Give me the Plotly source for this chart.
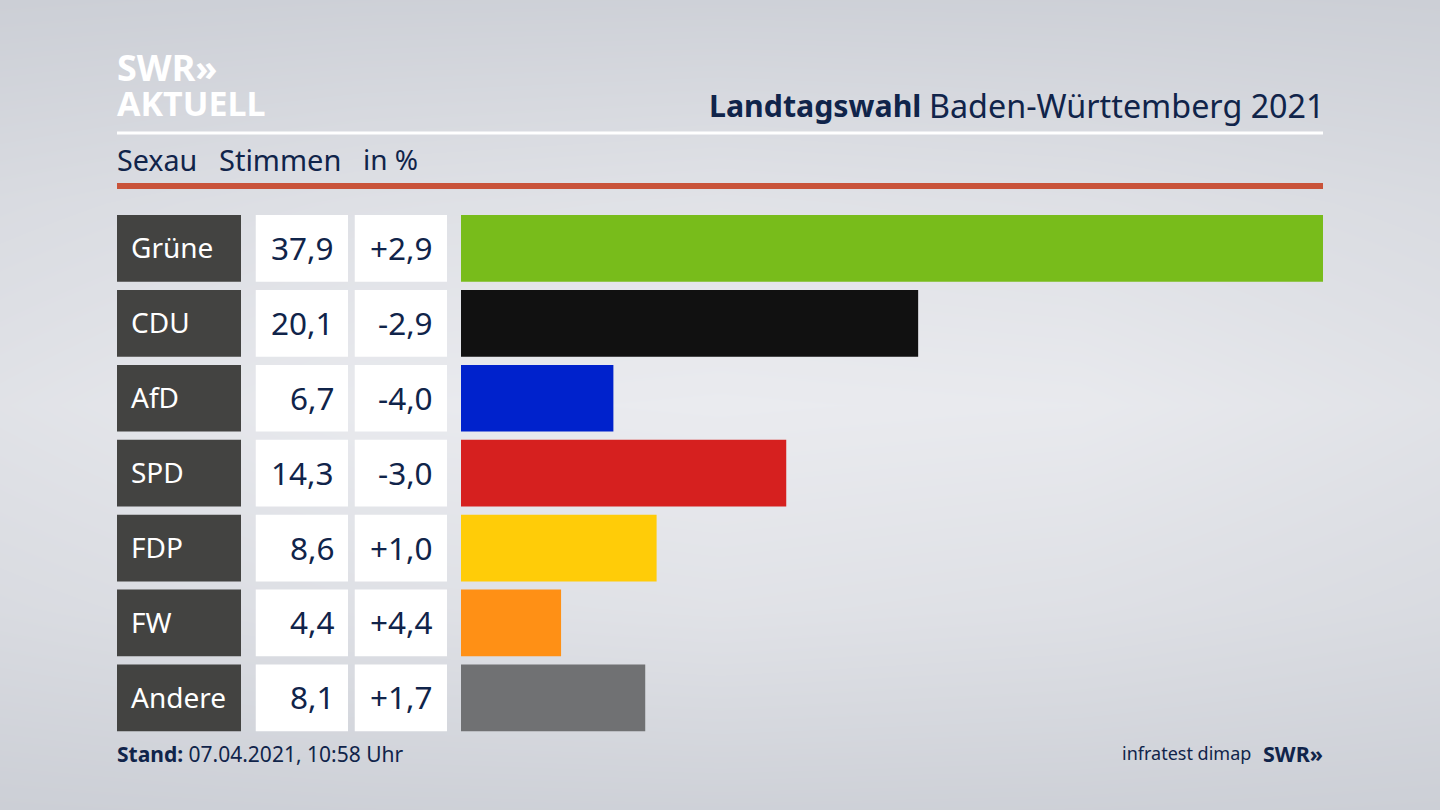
#!/usr/bin/env python3
"""Landtagswahl BW 2021, Sexau: vote share bars with label and value cells."""
import plotly.graph_objects as go

# ── data ─────────────────────────────────────────────
PARTIES = ["Grüne", "CDU", "AfD", "SPD", "FDP", "FW", "Andere"]
SHARES = [37.9, 20.1, 6.7, 14.3, 8.6, 4.4, 8.1]
CHANGES = [2.9, -2.9, -4.0, -3.0, 1.0, 4.4, 1.7]
BAR_COLORS = ["#78bc1b", "#111111", "#0022cc", "#d6201f", "#ffcc08", "#ff9015", "#707173"]

# backdrop brightness, rows top to bottom (0 = edge grey, 1 = centre)
BG_X = [0, 0.25, 0.5, 0.75, 1]
BG_Y = [0, 0.25, 0.5, 0.75, 1]
BG_Z = [
    [0.03, 0.08, 0.10, 0.08, 0.03],
    [0.45, 0.62, 0.70, 0.62, 0.45],
    [0.70, 0.95, 1.00, 0.95, 0.70],
    [0.45, 0.62, 0.70, 0.62, 0.45],
    [0.03, 0.08, 0.10, 0.08, 0.03],
]

W, H = 1440, 810
NAVY = "#10244a"
FONT = "Noto Sans"


def px_x(*vals):
    return [v / W for v in vals]


def px_y(top, bottom):
    return [1 - bottom / H, 1 - top / H]


def de(v, sign=False):
    s = f"{v:+.1f}" if sign else f"{v:.1f}"
    return s.replace(".", ",")


fig = go.Figure()

# backdrop goes on the first subplot so everything else is drawn over it
fig.add_trace(go.Heatmap(x=BG_X, y=BG_Y, z=BG_Z, zsmooth="best", showscale=False, hoverinfo="skip",
                         zmin=0, zmax=1, colorscale=[[0, "#cbced5"], [1, "#eaebef"]]))

# cell columns: label, share, change
for ax, color in [("x2", "#434341"), ("x3", "#ffffff"), ("x4", "#ffffff")]:
    fig.add_trace(go.Bar(x=[1] * len(PARTIES), y=PARTIES, orientation="h", xaxis=ax, yaxis="y2",
                         marker=dict(color=color, line_width=0), width=0.89, hoverinfo="skip"))

fig.add_trace(go.Bar(x=SHARES, y=PARTIES, orientation="h", xaxis="x5", yaxis="y2",
                     marker=dict(color=BAR_COLORS, line_width=0), width=0.89))

hidden = dict(visible=False, fixedrange=True)
fig.update_layout(
    width=W, height=H, margin=dict(l=0, r=0, t=0, b=0), showlegend=False,
    paper_bgcolor="#dfe1e6", plot_bgcolor="rgba(0,0,0,0)",
    font=dict(family=FONT, color=NAVY),
    xaxis=dict(hidden, domain=[0, 1], range=[0, 1]),
    yaxis=dict(hidden, domain=[0, 1], range=[1, 0]),
    xaxis2=dict(hidden, domain=px_x(117, 241), range=[0, 1], anchor="y2"),
    xaxis3=dict(hidden, domain=px_x(255.5, 348), range=[0, 1], anchor="y2"),
    xaxis4=dict(hidden, domain=px_x(354.5, 447), range=[0, 1], anchor="y2"),
    xaxis5=dict(hidden, domain=px_x(461, 1323), range=[0, 37.9], anchor="y2"),
    yaxis2=dict(hidden, domain=px_y(211, 735.3), categoryorder="array", categoryarray=PARTIES,
                range=[6.5, -0.5], anchor="x2"),
)


def label(x, y, text, size, color=NAVY, anchor="left", yref="paper", family=FONT):
    fig.add_annotation(x=x / W, xref="paper", y=y if yref != "paper" else 1 - y / H, yref=yref,
                       text=text, showarrow=False, xanchor=anchor, yanchor="middle",
                       yshift=1 if yref != "paper" else 0,
                       font=dict(size=size, color=color, family=family), borderpad=0, borderwidth=0)


for party, share, change in zip(PARTIES, SHARES, CHANGES):
    label(131, party, party, 28, "#ffffff", yref="y2")
    label(334, party, de(share), 31.5, anchor="right", yref="y2")
    label(433, party, de(change, sign=True), 31.5, anchor="right", yref="y2")

# header rules
fig.add_shape(type="rect", xref="paper", yref="paper", x0=117 / W, x1=1323 / W, y0=1 - 134.5 / H, y1=1 - 131.5 / H,
              fillcolor="#ffffff", line_width=0)
fig.add_shape(type="rect", xref="paper", yref="paper", x0=117 / W, x1=1323 / W, y0=1 - 189 / H, y1=1 - 183 / H,
              fillcolor="#c9533a", line_width=0)

# header and footer text
label(117, 68, "<b>SWR»</b>", 36, "#ffffff")
label(117, 102.5, "<b>AKTUELL</b>", 34, "#ffffff")
label(921, 105.5, "<b>Landtagswahl</b>", 30.3, anchor="right")
label(1325, 105.5, "Baden-Württemberg 2021", 32.3, anchor="right")
label(117, 159.5, "Sexau", 28.7)
label(219, 159.5, "Stimmen", 29)
label(363, 159.5, "in %", 28)
label(117, 754, "<b>Stand:</b> 07.04.2021, 10:58 Uhr", 21)
label(1251, 753, "infratest dimap", 18, anchor="right")
label(1323, 753, "<b>SWR»</b>", 21.5, anchor="right")

fig.write_html("out.html", config={"displayModeBar": False}, post_script="document.body.style.margin = '0';")
